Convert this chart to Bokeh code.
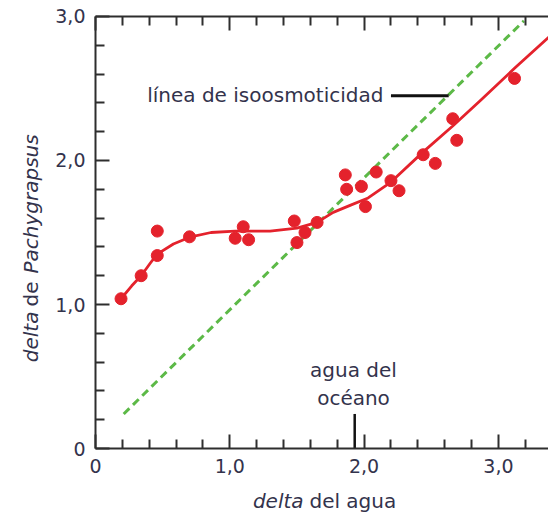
import math
from bokeh.plotting import figure
from bokeh.models import FixedTicker, LinearAxis, Label, Range1d
from bokeh.embed import file_html
from bokeh.resources import INLINE

# ---- data ----
pts_x = [0.19, 0.34, 0.46, 0.46, 0.70, 1.04, 1.10, 1.14, 1.48, 1.50, 1.56, 1.65,
         1.86, 1.87, 1.98, 2.01, 2.09, 2.20, 2.26, 2.44, 2.53, 2.66, 2.69, 3.12]
pts_y = [1.04, 1.20, 1.51, 1.34, 1.47, 1.46, 1.54, 1.45, 1.58, 1.43, 1.50, 1.57,
         1.90, 1.80, 1.82, 1.68, 1.92, 1.86, 1.79, 2.04, 1.98, 2.29, 2.14, 2.57]

curve_x = [0.19, 0.27, 0.34, 0.41, 0.46, 0.58, 0.71, 0.86, 1.04, 1.30, 1.50,
           1.65, 1.77, 1.90, 2.03, 2.20, 2.44, 2.66, 2.87, 3.12, 3.38]
curve_y = [1.04, 1.13, 1.20, 1.29, 1.35, 1.42, 1.47, 1.50, 1.51, 1.51, 1.53,
           1.57, 1.64, 1.69, 1.74, 1.85, 2.06, 2.24, 2.42, 2.64, 2.86]

iso_x = [0.21, 3.19]
iso_y = [0.24, 2.97]

leader_x = [2.20, 2.63]
leader_y = [2.45, 2.45]

ocean_x = [1.93, 1.93]
ocean_y = [0.0, 0.24]

major_ticks = [0, 1, 2, 3]
minor_x = [0.2, 0.4, 0.6, 0.8, 1.2, 1.4, 1.6, 1.8, 2.2, 2.4, 2.6, 2.8, 3.2]
minor_y = [0.2, 0.4, 0.6, 0.8, 1.2, 1.4, 1.6, 1.8, 2.2, 2.4, 2.6, 2.8]
tick_labels = {0: "0", 1: "1,0", 2: "2,0", 3: "3,0"}

X_MAX = 3.373
Y_MAX = 3.0

FONT = "DejaVu Sans"
TXT = "#33334c"
AX = "#2e2e2e"
RED = "#e4222c"
GREEN = "#5cb947"

# frame covers the whole canvas; axes are pinned at the data edges
p = figure(width=548, height=516, output_backend="svg", toolbar_location=None,
           x_range=Range1d(-0.7074, X_MAX), y_range=Range1d(-0.472, 3.111),
           x_axis_type=None, y_axis_type=None,
           min_border=0)
p.outline_line_color = None
p.background_fill_color = "white"
p.border_fill_color = "white"
p.xgrid.visible = False if p.xgrid else None
p.ygrid.visible = False if p.ygrid else None


def style_axis(ax, minor, labels=True):
    ax.ticker = FixedTicker(ticks=major_ticks, minor_ticks=minor)
    ax.axis_line_color = AX
    ax.axis_line_width = 2
    ax.major_tick_line_color = AX
    ax.major_tick_line_width = 2
    ax.minor_tick_line_color = AX
    ax.minor_tick_line_width = 2
    ax.major_tick_in = 14
    ax.major_tick_out = 0
    ax.minor_tick_in = 9
    ax.minor_tick_out = 0
    if labels:
        ax.major_label_overrides = tick_labels
        ax.major_label_text_font = FONT
        ax.major_label_text_font_size = "19px"
        ax.major_label_text_color = TXT
        ax.major_label_standoff = 10
    else:
        ax.major_label_overrides = {k: "" for k in tick_labels}
        ax.major_label_text_font_size = "0px"
        ax.major_label_standoff = 0


bottom = LinearAxis(fixed_location=0, bounds=(0, X_MAX))
style_axis(bottom, minor_x)
p.add_layout(bottom, "below")

left = LinearAxis(fixed_location=0, bounds=(0, Y_MAX))
style_axis(left, minor_y)
p.add_layout(left, "left")

top = LinearAxis(fixed_location=Y_MAX, bounds=(0, X_MAX))
style_axis(top, minor_x, labels=False)
p.add_layout(top, "above")

# isoosmotic line
p.line(iso_x, iso_y, line_color=GREEN, line_width=3, line_dash="8 5")
# fitted curve
p.line(curve_x, curve_y, line_color=RED, line_width=2.8, line_join="round")
# data points
p.scatter(pts_x, pts_y, size=12, fill_color=RED, line_color=RED)
# leader line
p.line(leader_x, leader_y, line_color="#111111", line_width=3)
# ocean water marker
p.line(ocean_x, ocean_y, line_color="#111111", line_width=2.5)

lab = dict(text_font=FONT, text_color=TXT, text_font_size="20px")

p.add_layout(Label(x=2.144, y=2.458, text="línea de isoosmoticidad",
                   text_align="right", text_baseline="middle", **lab))
p.add_layout(Label(x=1.921, y=0.542, text="agua del",
                   text_align="center", text_baseline="middle", **lab))
p.add_layout(Label(x=1.921, y=0.354, text="océano",
                   text_align="center", text_baseline="middle", **lab))

# x axis title
p.add_layout(Label(x=1.549, y=-0.361, text="delta", text_font_style="italic",
                   text_align="right", text_baseline="middle", **lab))
p.add_layout(Label(x=1.593, y=-0.361, text="del agua",
                   text_align="left", text_baseline="middle", **lab))

# y axis title (rotated)
p.add_layout(Label(x=-0.484, y=0.951, text="delta", text_font_style="italic",
                   angle=math.pi / 2, text_align="right", text_baseline="middle", **lab))
p.add_layout(Label(x=-0.484, y=1.073, text="de",
                   angle=math.pi / 2, text_align="center", text_baseline="middle", **lab))
p.add_layout(Label(x=-0.484, y=1.215, text="Pachygrapsus", text_font_style="italic",
                   angle=math.pi / 2, text_align="left", text_baseline="middle", **lab))

open("out.html", "w").write(file_html(p, INLINE))
